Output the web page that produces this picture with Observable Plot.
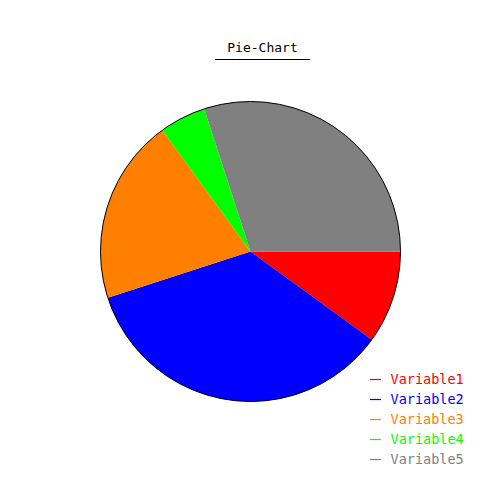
<!DOCTYPE html>
<html><head><meta charset="utf-8">
<script src="https://cdn.jsdelivr.net/npm/d3@7"></script>
<script src="https://cdn.jsdelivr.net/npm/@observablehq/plot@0.6"></script>
<style>
body{margin:0;background:#fff;}
#wrap{position:relative;width:500px;height:500px;font-family:"DejaVu Sans Mono",monospace;}
#title{position:absolute;left:215px;top:39px;width:95px;height:20px;text-align:center;font-size:13px;border-bottom:1px solid #000;line-height:18px;color:#000;}
#legend{position:absolute;left:365px;top:369px;}
#pie{position:absolute;left:0;top:0;}
</style></head>
<body><div id="wrap"><div id="pie"></div><div id="title">Pie-Chart</div><div id="legend"></div></div>
<script>
const categories = ["Variable1","Variable2","Variable3","Variable4","Variable5"];
const values = [10, 35, 20, 5, 30];
const colors = ["#ff0000","#0000ff","#ff8000","#00ff00","#808080"];

const total = d3.sum(values);
const pts = [];
let start = 0;
categories.forEach((c, i) => {
  const a0 = start / total * 2 * Math.PI;
  const a1 = (start + values[i]) / total * 2 * Math.PI;
  start += values[i];
  const n = Math.max(2, Math.ceil((a1 - a0) / (Math.PI / 360)));
  pts.push({cat: c, x: 0, y: 0});
  for (let k = 0; k <= n; k++) {
    const a = a0 + (a1 - a0) * k / n;
    pts.push({cat: c, x: Math.cos(a), y: Math.sin(a)});
  }
  pts.push({cat: c, x: 0, y: 0});
});
const colorScale = {domain: categories, range: colors};

const pie = Plot.plot({
  width: 500, height: 500,
  x: {domain: [-1, 1], range: [100, 400], axis: null},
  y: {domain: [-1, 1], range: [101, 401], axis: null},
  color: colorScale,
  marks: [
    Plot.line(pts, {x: "x", y: "y", z: "cat", fill: "cat", stroke: "none", curve: "linear"}),
    Plot.dot([0], {x: () => 0, y: () => 0, r: 150, stroke: "black", strokeWidth: 1, fill: "none"})
  ]
});
document.getElementById("pie").appendChild(pie);

const legend = Plot.plot({
  width: 130, height: 110,
  margin: 0,
  x: {domain: [0, 1], range: [5, 16], axis: null},
  y: {type: "point", domain: categories, range: [10, 90], padding: 0, axis: null},
  color: colorScale,
  style: {fontFamily: "DejaVu Sans Mono, monospace", fontSize: "13px"},
  marks: [
    Plot.ruleY(categories, {y: d => d, x1: () => 0, x2: () => 1, stroke: d => d, strokeWidth: 1.2}),
    Plot.text(categories, {y: d => d, x: () => 1, dx: 9, text: d => d, fill: d => d, textAnchor: "start", fontSize: 13.5})
  ]
});
document.getElementById("legend").appendChild(legend);
</script></body></html>
